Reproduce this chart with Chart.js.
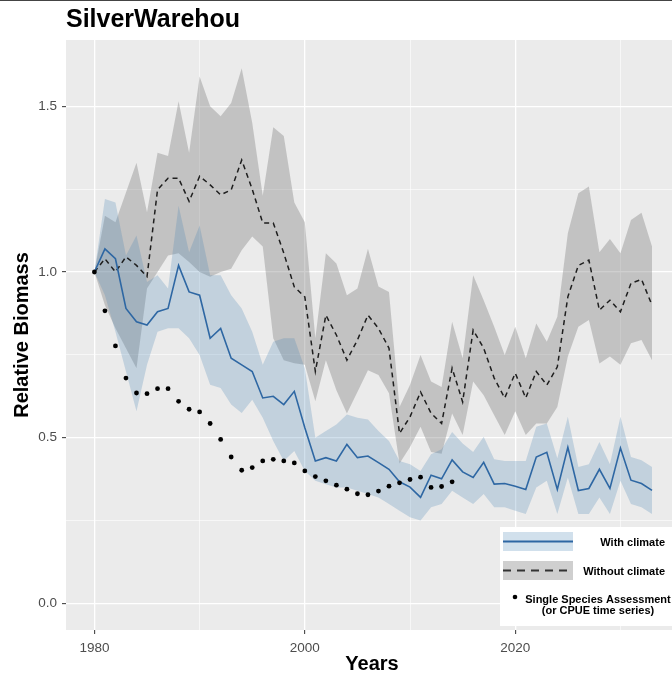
<!DOCTYPE html>
<html>
<head>
<meta charset="utf-8">
<script src="https://cdn.jsdelivr.net/npm/chart.js@4.4.1/dist/chart.umd.min.js"></script>
<style>
  html, body { margin: 0; padding: 0; background: #fff; }
  #wrap { width: 672px; height: 675px; position: relative; }
</style>
</head>
<body>
<div id="wrap"><canvas id="biomassChart" width="672" height="675"></canvas></div>
<script>
// ==============================
// DATA
// ==============================
const years = [
  1980, 1981, 1982, 1983, 1984, 1985, 1986, 1987, 1988, 1989,
  1990, 1991, 1992, 1993, 1994, 1995, 1996, 1997, 1998, 1999,
  2000, 2001, 2002, 2003, 2004, 2005, 2006, 2007, 2008, 2009,
  2010, 2011, 2012, 2013, 2014, 2015, 2016, 2017, 2018, 2019,
  2020, 2021, 2022, 2023, 2024, 2025, 2026, 2027, 2028, 2029,
  2030, 2031, 2032, 2033
];

// with climate (blue solid) and its band
const withClimate = [
  1.00, 1.07, 1.04, 0.89, 0.85, 0.84, 0.88, 0.89, 1.02, 0.94,
  0.93, 0.80, 0.83, 0.74, 0.72, 0.70, 0.62, 0.625, 0.60, 0.64,
  0.53, 0.43, 0.44, 0.43, 0.48, 0.44, 0.445, 0.425, 0.405, 0.367,
  0.351, 0.32, 0.387, 0.376, 0.433, 0.397, 0.38, 0.426, 0.36, 0.362,
  0.354, 0.344, 0.442, 0.456, 0.344, 0.471, 0.341, 0.347, 0.405, 0.347,
  0.469, 0.372, 0.362, 0.341
];
const withUpper = [
  1.00, 1.22, 1.21, 1.05, 1.11, 0.97, 0.99, 0.95, 1.20, 1.06,
  1.14, 0.99, 0.99, 0.93, 0.89, 0.82, 0.72, 0.79, 0.80, 0.80,
  0.71, 0.50, 0.52, 0.54, 0.57, 0.56, 0.555, 0.52, 0.49, 0.43,
  0.42, 0.40, 0.45, 0.465, 0.517, 0.483, 0.457, 0.503, 0.435, 0.43,
  0.43, 0.43, 0.533, 0.543, 0.438, 0.563, 0.412, 0.42, 0.487, 0.42,
  0.563, 0.442, 0.432, 0.412
];
const withLower = [
  1.00, 0.93, 0.82, 0.70, 0.58, 0.72, 0.82, 0.83, 0.83, 0.80,
  0.75, 0.66, 0.65, 0.60, 0.575, 0.615, 0.56, 0.49, 0.43, 0.46,
  0.40, 0.37, 0.36, 0.35, 0.35, 0.34, 0.33, 0.32, 0.30, 0.28,
  0.26, 0.25, 0.29, 0.30, 0.34, 0.32, 0.30, 0.33, 0.29, 0.29,
  0.28, 0.27, 0.35, 0.37, 0.27, 0.38, 0.27, 0.27, 0.32, 0.27,
  0.37, 0.30, 0.29, 0.27
];

// without climate (dashed) and its band
const withoutClimate = [
  1.00, 1.04, 1.00, 1.046, 1.02, 0.986, 1.248, 1.283, 1.283, 1.213,
  1.289, 1.263, 1.233, 1.248, 1.338, 1.25, 1.148, 1.148, 1.057, 0.955,
  0.925, 0.70, 0.87, 0.81, 0.734, 0.795, 0.87, 0.83, 0.77, 0.513,
  0.563, 0.638, 0.574, 0.543, 0.71, 0.608, 0.825, 0.77, 0.68, 0.62,
  0.695, 0.62, 0.70, 0.659, 0.714, 0.925, 1.02, 1.036, 0.885, 0.915,
  0.88, 0.966, 0.978, 0.90
];
const withoutUpper = [
  1.00, 1.17, 1.15, 1.24, 1.33, 1.18, 1.36, 1.35, 1.515, 1.36,
  1.59, 1.50, 1.47, 1.51, 1.615, 1.45, 1.23, 1.437, 1.41, 1.21,
  1.15, 0.80, 1.057, 1.026, 0.93, 0.95, 1.07, 0.956, 0.94, 0.593,
  0.66, 0.75, 0.67, 0.653, 0.85, 0.74, 0.99, 0.915, 0.835, 0.75,
  0.835, 0.74, 0.845, 0.79, 0.865, 1.117, 1.238, 1.258, 1.06, 1.10,
  1.057, 1.157, 1.179, 1.077
];
const withoutLower = [
  1.00, 0.90, 0.83, 0.77, 0.71, 0.95, 1.00, 1.05, 1.057, 1.03,
  1.00, 0.986, 1.00, 1.01, 1.066, 1.107, 1.077, 0.80, 0.734, 0.725,
  0.72, 0.61, 0.734, 0.643, 0.573, 0.638, 0.704, 0.689, 0.634, 0.422,
  0.472, 0.533, 0.457, 0.452, 0.573, 0.508, 0.67, 0.628, 0.568, 0.508,
  0.58, 0.508, 0.543, 0.543, 0.593, 0.745, 0.835, 0.855, 0.724, 0.745,
  0.72, 0.785, 0.795, 0.734
];

// single species assessment (dots), 1980-2014
const assessYears = [
  1980, 1981, 1982, 1983, 1984, 1985, 1986, 1987, 1988, 1989,
  1990, 1991, 1992, 1993, 1994, 1995, 1996, 1997, 1998, 1999,
  2000, 2001, 2002, 2003, 2004, 2005, 2006, 2007, 2008, 2009,
  2010, 2011, 2012, 2013, 2014
];
const assessment = [
  1.00, 0.883, 0.777, 0.68, 0.635, 0.633, 0.648, 0.648, 0.61, 0.586,
  0.578, 0.543, 0.495, 0.442, 0.402, 0.41, 0.43, 0.435, 0.43, 0.424,
  0.40, 0.383, 0.37, 0.357, 0.345, 0.331, 0.328, 0.339, 0.354, 0.364,
  0.374, 0.381, 0.35, 0.353, 0.367
];

const xTickLabels = [1980, 2000, 2020];
const yTickLabels = [0, 0.5, 1.0, 1.5];

// ==============================
// STYLE
// ==============================
const FONT = "'Liberation Sans', Arial, Helvetica, sans-serif";
const PANEL_BG = '#EBEBEB';
const BLUE = '#2E67A3';
const BLUE_FILL = 'rgba(70,130,180,0.25)';
const GREY_FILL = 'rgba(128,128,128,0.38)';

function toPoints(xs, ys) {
    return xs.map((x, i) => ({ x: x, y: ys[i] }));
}

function isMajorX(v) { return xTickLabels.includes(Math.round(v)); }
function isMajorY(v) { return yTickLabels.some(t => Math.abs(t - v) < 1e-6); }

// ==============================
// PLUGINS
// ==============================
const panelBackground = {
    id: 'panelBackground',
    beforeDraw(chart) {
        const { ctx, chartArea: a } = chart;
        ctx.save();
        ctx.fillStyle = PANEL_BG;
        ctx.fillRect(a.left, a.top, a.right - a.left, a.bottom - a.top);
        ctx.restore();
    }
};

const ggDecor = {
    id: 'ggDecor',
    afterDraw(chart) {
        const { ctx, chartArea: a } = chart;
        ctx.save();

        // thin rule along the top edge
        ctx.fillStyle = '#444';
        ctx.fillRect(0, 0, chart.width, 1);

        // title
        ctx.fillStyle = '#000';
        ctx.font = `bold 25px ${FONT}`;
        ctx.textAlign = 'left';
        ctx.textBaseline = 'middle';
        ctx.fillText('SilverWarehou', a.left, 20);

        // axis titles
        ctx.font = `bold 20px ${FONT}`;
        ctx.textAlign = 'center';
        ctx.fillText('Years', 372, 664);
        ctx.save();
        ctx.translate(22, (a.top + a.bottom) / 2);
        ctx.rotate(-Math.PI / 2);
        ctx.fillText('Relative Biomass', 0, 0);
        ctx.restore();

        // legend box
        const lx = 500, ly = 527;
        ctx.fillStyle = '#fff';
        ctx.fillRect(lx, ly, 180, 99);

        // with climate key
        ctx.fillStyle = BLUE_FILL;
        ctx.fillRect(503, 532, 70, 19);
        ctx.strokeStyle = BLUE;
        ctx.lineWidth = 1.8;
        ctx.beginPath(); ctx.moveTo(503, 541.5); ctx.lineTo(573, 541.5); ctx.stroke();

        // without climate key
        ctx.fillStyle = GREY_FILL;
        ctx.fillRect(503, 561, 70, 19);
        ctx.strokeStyle = '#333';
        ctx.setLineDash([8, 6]);
        ctx.beginPath(); ctx.moveTo(503, 570.5); ctx.lineTo(573, 570.5); ctx.stroke();
        ctx.setLineDash([]);

        // assessment key
        ctx.fillStyle = '#000';
        ctx.beginPath(); ctx.arc(515, 597, 2.3, 0, Math.PI * 2); ctx.fill();

        ctx.font = `bold 11px ${FONT}`;
        ctx.textAlign = 'right';
        ctx.fillText('With climate', 665, 543);
        ctx.fillText('Without climate', 665, 572);
        ctx.textAlign = 'center';
        ctx.fillText('Single Species Assessment', 598, 600);
        ctx.fillText('(or CPUE time series)', 598, 611);

        ctx.restore();
    }
};

// ==============================
// CHART
// ==============================
const bandLine = {
    borderColor: 'rgba(0,0,0,0)',
    borderWidth: 0,
    pointRadius: 0,
    tension: 0
};

new Chart(document.getElementById('biomassChart'), {
    type: 'line',
    data: {
        datasets: [
            { ...bandLine, label: 'without lower', data: toPoints(years, withoutLower), fill: false, order: 6 },
            { ...bandLine, label: 'without upper', data: toPoints(years, withoutUpper), fill: { target: 0 }, backgroundColor: GREY_FILL, order: 5 },
            { ...bandLine, label: 'with lower', data: toPoints(years, withLower), fill: false, order: 4 },
            { ...bandLine, label: 'with upper', data: toPoints(years, withUpper), fill: { target: 2 }, backgroundColor: BLUE_FILL, order: 3 },
            {
                label: 'Without climate',
                data: toPoints(years, withoutClimate),
                borderColor: '#1e1e1e',
                borderWidth: 1.5,
                borderDash: [5, 4],
                pointRadius: 0,
                fill: false,
                tension: 0,
                order: 2
            },
            {
                label: 'With climate',
                data: toPoints(years, withClimate),
                borderColor: BLUE,
                borderWidth: 1.6,
                pointRadius: 0,
                fill: false,
                tension: 0,
                order: 1
            },
            {
                label: 'Single Species Assessment',
                data: toPoints(assessYears, assessment),
                showLine: false,
                pointRadius: 2.4,
                pointBackgroundColor: '#000',
                pointBorderWidth: 0,
                order: 0
            }
        ]
    },
    options: {
        responsive: false,
        animation: false,
        layout: {
            autoPadding: false,
            padding: { top: 40, right: 0, bottom: 0, left: 0 }
        },
        plugins: {
            legend: { display: false },
            tooltip: { enabled: false },
            title: { display: false }
        },
        scales: {
            x: {
                type: 'linear',
                min: 1977.3,
                max: 2034.9,
                border: { display: false },
                grid: {
                    color: 'white',
                    lineWidth: c => isMajorX(c.tick.value) ? 1.3 : 0.6,
                    tickColor: c => isMajorX(c.tick.value) ? '#333' : 'rgba(0,0,0,0)',
                    tickWidth: 1,
                    tickLength: 4
                },
                ticks: {
                    stepSize: 10,
                    includeBounds: false,
                    autoSkip: false,
                    maxRotation: 0,
                    padding: 6,
                    color: '#4D4D4D',
                    font: { family: FONT, size: 13.5 },
                    callback: v => isMajorX(v) ? String(v) : ''
                },
                afterFit(scale) {
                    scale.height = 45;
                    scale.paddingLeft = 0;
                    scale.paddingRight = 0;
                }
            },
            y: {
                type: 'linear',
                min: -0.08,
                max: 1.70,
                border: { display: false },
                grid: {
                    color: 'white',
                    lineWidth: c => isMajorY(c.tick.value) ? 1.3 : 0.6,
                    tickColor: c => isMajorY(c.tick.value) ? '#333' : 'rgba(0,0,0,0)',
                    tickWidth: 1,
                    tickLength: 4
                },
                ticks: {
                    stepSize: 0.25,
                    includeBounds: false,
                    autoSkip: false,
                    padding: 5,
                    color: '#4D4D4D',
                    font: { family: FONT, size: 13.5 },
                    callback: v => isMajorY(v) ? v.toFixed(1) : ''
                },
                afterFit(scale) {
                    scale.width = 66;
                    scale.paddingTop = 0;
                    scale.paddingBottom = 0;
                }
            }
        }
    },
    plugins: [panelBackground, ggDecor]
});
</script>
</body>
</html>
